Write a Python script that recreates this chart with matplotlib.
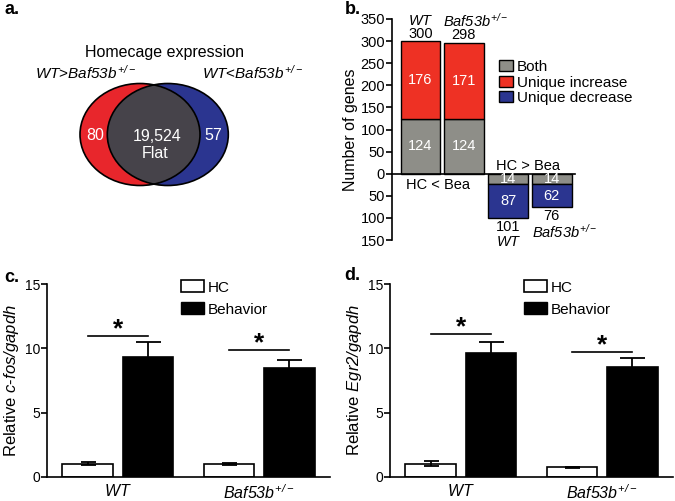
import numpy as np
import matplotlib
matplotlib.use('Agg')
import matplotlib.pyplot as plt
from matplotlib.patches import Ellipse, Patch

plt.rcParams['font.family'] = ['Liberation Sans', 'DejaVu Sans']
# math text is only used for the italic gene / genotype names
plt.rcParams['mathtext.fontset'] = 'custom'
plt.rcParams['mathtext.rm'] = 'Liberation Sans:italic'
plt.rcParams['mathtext.it'] = 'Liberation Sans:italic'
plt.rcParams['axes.linewidth'] = 1.2

# panel a: venn counts
venn_left = '80'
venn_mid = '19,524'
venn_right = '57'

# panel b: regulated genes
geno = ['WT', 'Baf53b']
both_up = [124, 124]
uniq_up = [176, 171]
total_up = [300, 298]
both_dn = [14, 14]
uniq_dn = [87, 62]
total_dn = [101, 76]

# panels c/d: qPCR
groups = ['WT', 'Baf53b']
cfos_hc = [1.04, 1.02]
cfos_hc_err = [0.12, 0.06]
cfos_beh = [9.36, 8.48]
cfos_beh_err = [1.1, 0.58]
cfos_sig = [10.97, 9.88]

egr2_hc = [1.04, 0.75]
egr2_hc_err = [0.21, 0.05]
egr2_beh = [9.67, 8.58]
egr2_beh_err = [0.83, 0.65]
egr2_sig = [11.1, 9.75]

RED = '#e8262c'
BLUE = '#2b3590'
DARK = '#46434a'
GRAY = '#8e8e88'
BRED = '#ee3124'
W, H = 675, 501

fig = plt.figure(figsize=(W/100, H/100), dpi=100)


def ftext(x, y, s, **kw):
    fig.text(x/W, 1-y/H, s, ha='center', va='center', **kw)


def px_axes(x0, y0, x1, y1):
    return fig.add_axes([x0/W, 1-y1/H, (x1-x0)/W, (y1-y0)/H])


baf = r'$Baf53b^{+/-}$'
wt = r'$WT$'

# ---- a. venn
ax = fig.add_axes([0, 1-250/H, 340/W, 250/H])
ax.set_xlim(0, 340)
ax.set_ylim(250, 0)
ax.axis('off')
e_red = Ellipse((140, 134.5), 120, 102, facecolor=RED, edgecolor='none')
e_blue = Ellipse((167.8, 134.5), 121, 102, facecolor=BLUE, edgecolor='none')
ax.add_patch(e_red)
ax.add_patch(e_blue)
e_mid = Ellipse((140, 134.5), 120, 102, facecolor=DARK, edgecolor='none')
ax.add_patch(e_mid)
e_mid.set_clip_path(e_blue)
for c, w in [((140, 134.5), 120), ((167.8, 134.5), 121)]:
    ax.add_patch(Ellipse(c, w, 102, facecolor='none', edgecolor='black', lw=1.2))
ax.text(95, 135, venn_left, color='white', fontsize=11.5, ha='center', va='center')
ax.text(213, 135, venn_right, color='white', fontsize=11.5, ha='center', va='center')
ax.text(157, 136.5, venn_mid, color='white', fontsize=11.5, ha='center', va='center')
ax.text(155, 153.5, 'Flat', color='white', fontsize=11.5, ha='center', va='center')
ax.text(165, 52, 'Homecage expression', fontsize=11.5, ha='center', va='center')
ax.text(85, 73, wt + '>' + baf, fontsize=11, ha='center', va='center')
ax.text(252, 73, wt + '<' + baf, fontsize=11, ha='center', va='center')

# ---- b. stacked bars
ax = px_axes(392, 19, 575, 240)
up_x = np.array([0, 1])
dn_x = np.array([2.03, 3.03])
bw = 0.92
min_band = 24
ax.bar(up_x, both_up, bw, color=GRAY, edgecolor='black', lw=1)
ax.bar(up_x, uniq_up, bw, bottom=both_up, color=BRED, edgecolor='black', lw=1)
band = [max(b, min_band) for b in both_dn]
ax.bar(dn_x, [-b for b in band], bw, color=GRAY, edgecolor='black', lw=1)
ax.bar(dn_x, [-(t - b) for t, b in zip(total_dn, band)], bw, bottom=[-b for b in band],
       color=BLUE, edgecolor='black', lw=1)
for i in range(2):
    ax.text(up_x[i], both_up[i]/2, str(both_up[i]), color='white', fontsize=10.5, ha='center', va='center')
    ax.text(up_x[i], both_up[i] + uniq_up[i]/2, str(uniq_up[i]), color='white', fontsize=10.5, ha='center', va='center')
    ax.text(up_x[i], total_up[i] + 15, str(total_up[i]), fontsize=10.5, ha='center', va='center')
    ax.text(dn_x[i], -band[i]/2, str(both_dn[i]), color='white', fontsize=10.5, ha='center', va='center')
    ax.text(dn_x[i], -(band[i] + total_dn[i])/2, str(uniq_dn[i]), color='white', fontsize=10.5, ha='center', va='center')
    ax.text(dn_x[i], -total_dn[i] - 19, str(total_dn[i]), fontsize=10.5, ha='center', va='center')
ax.text(up_x[0], total_up[0] + 46, wt, fontsize=10.5, ha='center', va='center')
ax.text(0.52, total_up[1] + 48, baf, fontsize=10.5, ha='left', va='center')
ax.text(dn_x[0], -total_dn[0] - 53, wt, fontsize=10.5, ha='center', va='center')
ax.text(2.57, -total_dn[1] - 56, baf, fontsize=10.5, ha='left', va='center')
ax.text(0.4, -25, 'HC < Bea', fontsize=10.5, ha='center', va='center')
ax.text(2.48, 18, 'HC > Bea', fontsize=10.5, ha='center', va='center')
ax.set_xlim(-0.66, 3.57)
ax.set_ylim(-150, 350)
ax.set_yticks(np.arange(-150, 351, 50))
ax.set_yticklabels([str(abs(v)) for v in range(-150, 351, 50)], fontsize=10.5)
ax.spines['top'].set_visible(False)
ax.spines['right'].set_visible(False)
ax.spines['bottom'].set_position(('data', 0))
ax.set_xticks([])
ax.tick_params(axis='y', length=4, width=1.2, pad=1)
ax.set_ylabel('Number of genes', fontsize=11.5, labelpad=2)
ax.legend(handles=[Patch(facecolor=GRAY, edgecolor='black', label='Both'),
                   Patch(facecolor=BRED, edgecolor='black', label='Unique increase'),
                   Patch(facecolor=BLUE, edgecolor='black', label='Unique decrease')],
          loc='upper left', bbox_to_anchor=(499/W, 1-60/H), bbox_transform=fig.transFigure,
          frameon=False, fontsize=11, handlelength=0.9, handleheight=0.75,
          handletextpad=0.25, labelspacing=0.1, borderpad=0, borderaxespad=0)


# ---- c/d. qPCR bars
def qpcr(ax, hc, hc_err, beh, beh_err, sig, ylab):
    x = np.arange(len(groups))
    off, bw = 0.213, 0.355
    ax.bar(x - off, hc, bw, color='white', edgecolor='black', lw=1.2, zorder=2)
    ax.bar(x + off, beh, bw, color='black', edgecolor='black', lw=1.2, zorder=2)
    ax.errorbar(x - off, hc, yerr=hc_err, fmt='none', ecolor='black', elinewidth=1.3,
                capsize=5.4, capthick=1.3, zorder=3)
    ax.errorbar(x + off, beh, yerr=beh_err, fmt='none', ecolor='black', elinewidth=1.3,
                capsize=9, capthick=1.3, zorder=3)
    for i in range(len(groups)):
        ax.plot([x[i] - off, x[i] + off], [sig[i], sig[i]], color='black', lw=1.2)
        ax.text(x[i], sig[i] + 0.5, '*', fontsize=19, fontweight='bold', ha='center', va='center')
    ax.set_xlim(-0.5, 1.5)
    ax.set_ylim(0, 15)
    ax.set_yticks([0, 5, 10, 15])
    ax.set_xticks(x)
    ax.set_xticklabels([wt, baf], fontsize=11.5)
    ax.tick_params(axis='x', length=0, pad=4.5)
    ax.tick_params(axis='y', length=4, width=1.2, labelsize=10, pad=1)
    ax.spines['top'].set_visible(False)
    ax.spines['right'].set_visible(False)
    ax.set_ylabel(ylab, fontsize=12, labelpad=3)
    ax.legend(handles=[Patch(facecolor='white', edgecolor='black', lw=1.2, label='HC'),
                       Patch(facecolor='black', edgecolor='black', label='Behavior')],
              loc='upper left', bbox_to_anchor=(0.475, 1.02), frameon=False, fontsize=11,
              handlelength=1.45, handleheight=0.85, handletextpad=0.3, labelspacing=0.5,
              borderpad=0, borderaxespad=0)


ax = px_axes(47, 284, 330, 477)
qpcr(ax, cfos_hc, cfos_hc_err, cfos_beh, cfos_beh_err, cfos_sig,
     r'Relative $c$-$fos/gapdh$')
ax = px_axes(390, 284, 673, 477)
qpcr(ax, egr2_hc, egr2_hc_err, egr2_beh, egr2_beh_err, egr2_sig,
     r'Relative $Egr2/gapdh$')

for lab, x, y in [('a.', 12, 10), ('b.', 353, 10), ('c.', 12, 277), ('d.', 352, 276)]:
    ftext(x, y, lab, fontsize=13, fontweight='bold')

fig.savefig('out.png', dpi=100)
